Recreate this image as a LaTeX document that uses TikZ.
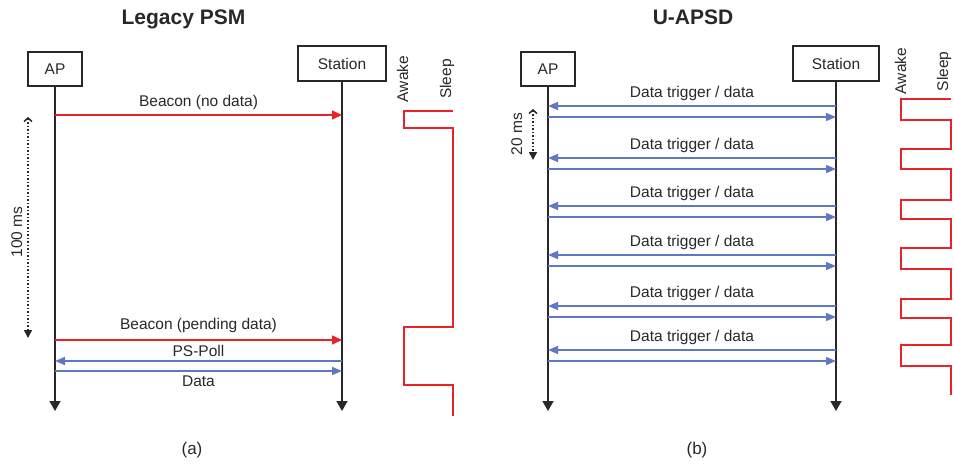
\documentclass[tikz,border=0pt]{standalone}
\usepackage{fontspec}
\setmainfont{Liberation Sans}
\usetikzlibrary{arrows.meta}
\definecolor{sigred}{RGB}{235,35,40}
\definecolor{msgblue}{RGB}{95,120,195}
\definecolor{linegray}{RGB}{40,40,40}

\begin{document}
\begin{tikzpicture}[x=1pt,y=-1pt,
  every node/.style={text=linegray,font=\fontsize{15.5}{18}\selectfont},
  entity/.style={draw=linegray,line width=1.6pt,inner sep=0pt},
  lifeline/.style={draw=linegray,line width=1.6pt,-{Triangle[length=10pt,width=11pt]}},
  beacon/.style={draw=sigred,line width=1.6pt,-{Triangle[length=10pt,width=9pt]}},
  msg/.style={draw=msgblue,line width=1.6pt,-{Triangle[length=10pt,width=8pt]}},
  period/.style={draw=linegray,line width=1.5pt,dotted,{Straight Barb[length=3.5pt,width=8pt]}-{Triangle[length=8pt,width=8pt]}},
  state/.style={draw=sigred,line width=1.5pt},
  title/.style={font=\fontsize{21}{24}\selectfont\bfseries},
  caption/.style={font=\fontsize{17}{20}\selectfont}]
\useasboundingbox (0,0) rectangle (954,464);

% (a) legacy power save
\node[title,anchor=base] (titleA) at (183.5,24) {Legacy PSM};
\node[entity,minimum width=54pt,minimum height=34pt] (apa) at (55,69) {AP};
\node[entity,minimum width=88pt,minimum height=35pt] (sta) at (342,63.5) {Station};
\coordinate (apaEnd) at (55,411);
\coordinate (staEnd) at (342,411);
\draw[lifeline] (apa) -- (apaEnd);
\draw[lifeline] (sta) -- (staEnd);

\draw[beacon] (apa |- 0,115) -- node[above=1pt] (lblNoData) {Beacon (no data)} (sta |- 0,115);
\draw[beacon] (apa |- 0,340) -- node[above=3pt] (lblPending) {Beacon (pending data)} (sta |- 0,340);
\draw[msg] (sta |- 0,361) -- node[above=0pt] (lblPoll) {PS-Poll} (apa |- 0,361);
\draw[msg] (apa |- 0,371) -- node[below=1pt] (lblData) {Data} (sta |- 0,371);

\coordinate (beaconTop) at (28,117);
\coordinate (beaconBot) at (28,338);
\draw[period] (beaconTop) -- (beaconBot);
\node[rotate=90,anchor=base] (lblHundred) at (22,232) {100 ms};

\node[rotate=90,anchor=base] (awakeA) at (408,79) {Awake};
\node[rotate=90,anchor=base] (sleepA) at (451,79) {Sleep};
\draw[state] (453,111) -- (404,111) -- (404,128) -- (453,128) -- (453,327)
  -- (404,327) -- (404,385) -- (453,385) -- (453,416);

\node[caption,anchor=base] (capA) at (192,454) {(a)};

% (b) U-APSD
\node[title,anchor=base] (titleB) at (693,24) {U-APSD};
\node[entity,minimum width=54pt,minimum height=34pt] (apb) at (548,69) {AP};
\node[entity,minimum width=86pt,minimum height=35pt] (stb) at (836,63.5) {Station};
\coordinate (apbEnd) at (548,411);
\coordinate (stbEnd) at (836,411);
\draw[lifeline] (apb) -- (apbEnd);
\draw[lifeline] (stb) -- (stbEnd);

\draw[msg] (stb |- 0,106) -- node[above=1pt] (trigA) {Data trigger / data} (apb |- 0,106);
\draw[msg] (apb |- 0,117) -- (stb |- 0,117);
\draw[msg] (stb |- 0,158) -- node[above=1pt] (trigB) {Data trigger / data} (apb |- 0,158);
\draw[msg] (apb |- 0,169) -- (stb |- 0,169);
\draw[msg] (stb |- 0,206) -- node[above=1pt] (trigC) {Data trigger / data} (apb |- 0,206);
\draw[msg] (apb |- 0,217) -- (stb |- 0,217);
\draw[msg] (stb |- 0,255) -- node[above=1pt] (trigD) {Data trigger / data} (apb |- 0,255);
\draw[msg] (apb |- 0,266) -- (stb |- 0,266);
\draw[msg] (stb |- 0,306) -- node[above=1pt] (trigE) {Data trigger / data} (apb |- 0,306);
\draw[msg] (apb |- 0,317) -- (stb |- 0,317);
\draw[msg] (stb |- 0,350) -- node[above=1pt] (trigF) {Data trigger / data} (apb |- 0,350);
\draw[msg] (apb |- 0,361) -- (stb |- 0,361);

\coordinate (triggerTop) at (533,109);
\coordinate (triggerBot) at (533,160);
\draw[period] (triggerTop) -- (triggerBot);
\node[rotate=90,anchor=base] (lblTwenty) at (522,134) {20 ms};

\node[rotate=90,anchor=base] (awakeB) at (906,71) {Awake};
\node[rotate=90,anchor=base] (sleepB) at (948,71.5) {Sleep};
\draw[state] (951,99) -- (901,99) -- (901,120) -- (951,120) -- (951,149)
  -- (901,149) -- (901,169) -- (951,169) -- (951,200) -- (901,200)
  -- (901,219) -- (951,219) -- (951,248) -- (901,248) -- (901,269)
  -- (951,269) -- (951,299) -- (901,299) -- (901,318) -- (951,318)
  -- (951,345) -- (901,345) -- (901,366) -- (951,366) -- (951,395);

\node[caption,anchor=base] (capB) at (697,454) {(b)};
\end{tikzpicture}
\end{document}
